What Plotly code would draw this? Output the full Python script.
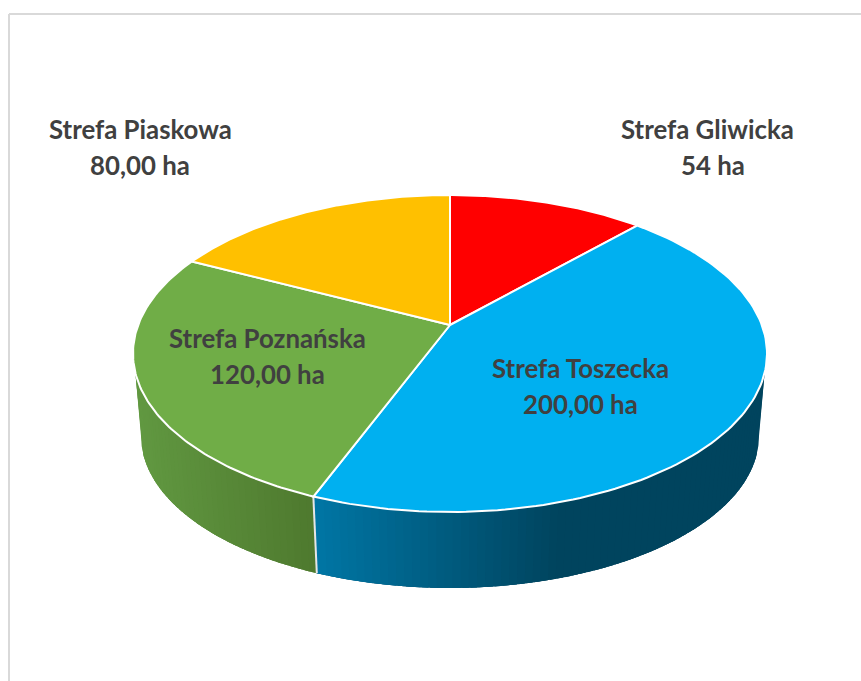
import numpy as np
import plotly.graph_objects as go

# --- data ---
categories = ["Strefa Gliwicka", "Strefa Toszecka", "Strefa Poznańska", "Strefa Piaskowa"]
values = [54, 200, 120, 80]
value_labels = ["54 ha", "200,00 ha", "120,00 ha", "80,00 ha"]

# --- styles ---
top_colors = ["#FF0000", "#00B0F0", "#70AD47", "#FFC000"]
side_ramps = [None, ("#0077A6", "#00445E"), ("#619841", "#4F7A2F"), None]
label_anchor = [(707, 129), (580, 368), (267, 338), (140, 129)]
label_pitch = 36
value_offset = [6, 0, 0, 0]

W, H = 861, 681
APEX_X, APEX_Y = 450, 325
K, A, R = 57 / 317, 153.4, 311.7              # perspective of the top disc
TOP_CY, TOP_RX, TOP_RY = 353.5, 317, 158.5    # outline of the top disc
BOT_CY, BOT_RX, BOT_RY = 436, 309, 152        # outline of the lower rim
GRAD_END_X = 560


def disc_point(deg):
    th = np.radians(deg)
    u, v = np.sin(th), np.cos(th)
    d = 1 + K * v
    return APEX_X + R * u / d, APEX_Y - A * v / d


def rim_t(deg):
    """Angle on the fitted ellipses that corresponds to a true pie angle."""
    x, y = disc_point(deg)
    return np.degrees(np.arctan2((x - APEX_X) / TOP_RX, (TOP_CY - y) / TOP_RY)) % 360


def top_pt(t):
    r = np.radians(t)
    return APEX_X + TOP_RX * np.sin(r), TOP_CY - TOP_RY * np.cos(r)


def bot_pt(t):
    r = np.radians(t)
    return APEX_X + BOT_RX * np.sin(r), BOT_CY - BOT_RY * np.cos(r)


def hex_rgb(h):
    return np.array([int(h[i:i + 2], 16) for i in (1, 3, 5)], dtype=float)


def poly(x, y, col):
    fig.add_trace(go.Scatter(x=x, y=y, mode="lines", fill="toself", fillcolor=col,
                             line=dict(width=0), hoverinfo="skip", showlegend=False))


fig = go.Figure()

total = sum(values)
edges = np.concatenate([[0], np.cumsum(values) / total * 360])

# side wall
SIDE_START, SIDE_END = 97.0, 263.0
STEP = 1.5
for i in (1, 2):
    t0 = max(rim_t(edges[i]), SIDE_START)
    t1 = min(rim_t(edges[i + 1]) if edges[i + 1] < 360 else 360, SIDE_END)
    lo, hi = hex_rgb(side_ramps[i][0]), hex_rgb(side_ramps[i][1])
    xmin = bot_pt(t1)[0] if i == 2 else top_pt(t1)[0]
    xmax = top_pt(t0)[0]

    # silhouette corner and a solid base under the gradient strips
    corner = (90.0, t0) if i == 1 else (t1, 270.0)
    a_all = np.linspace(t0, t1, 200)
    xt_all, yt_all = top_pt(a_all)
    a_b = np.linspace(90.0 if i == 1 else t0, 270.0 if i == 2 else t1, 240)
    xb_all, yb_all = bot_pt(a_b)
    base = side_ramps[i][1] if i == 1 else side_ramps[i][0]
    poly(np.concatenate([xt_all, xb_all[::-1]]), np.concatenate([yt_all, yb_all[::-1]]), base)

    ts = np.arange(t0, t1, STEP)
    for t in ts:
        te = min(t + STEP + 1.2, t1)
        ta = max(t, t0)
        a = np.linspace(ta, te, 4)
        xt, yt = top_pt(a)
        xb, yb = bot_pt(a)
        xm = (top_pt(t + STEP / 2)[0] + bot_pt(t + STEP / 2)[0]) / 2
        if i == 1:
            f = np.clip((xm - xmin) / (GRAD_END_X - xmin), 0, 1)
            c = hi + (lo - hi) * (1 - f)
        else:
            f = np.clip((xm - xmin) / (xmax - xmin), 0, 1)
            c = lo + (hi - lo) * f
        poly(np.concatenate([xt, xb[::-1]]), np.concatenate([yt, yb[::-1]]),
             "rgb(%d,%d,%d)" % tuple(c))

# divider on the wall between the two visible slices
div_t = rim_t(edges[2])
dx0, dy0 = top_pt(div_t)
dx1, dy1 = bot_pt(div_t)
fig.add_trace(go.Scatter(x=[dx0, dx1], y=[dy0, dy1], mode="lines",
                         line=dict(color="#E6E6E6", width=2),
                         hoverinfo="skip", showlegend=False))

# top slices
for i, name in enumerate(categories):
    a = np.linspace(rim_t(edges[i]), rim_t(edges[i + 1]) if edges[i + 1] < 360 else 360, 120)
    xs, ys = top_pt(a)
    fig.add_trace(go.Scatter(
        x=np.concatenate([[APEX_X], xs, [APEX_X]]),
        y=np.concatenate([[APEX_Y], ys, [APEX_Y]]),
        mode="lines", fill="toself", fillcolor=top_colors[i],
        line=dict(color="#FFFFFF", width=2), name=name,
        hovertemplate=name + "<br>" + value_labels[i] + "<extra></extra>",
        showlegend=False))

# labels
for i, name in enumerate(categories):
    lx, ly = label_anchor[i]
    for text, yy, xx in ((name, ly, lx), (value_labels[i], ly + label_pitch, lx + value_offset[i])):
        fig.add_annotation(x=xx, y=yy, text="<b>%s</b>" % text, showarrow=False,
                           xanchor="center", yanchor="middle",
                           font=dict(family="Lato", size=25.8, color="#404040"))

# chart frame, running off the picture on the right and at the bottom
fig.add_shape(type="line", x0=9, x1=W + 5, y0=14, y1=14, line=dict(color="#D9D9D9", width=2))
fig.add_shape(type="line", x0=9, x1=9, y0=14, y1=H + 5, line=dict(color="#D9D9D9", width=2))

fig.update_layout(
    width=W, height=H, margin=dict(l=0, r=0, t=0, b=0),
    paper_bgcolor="white", plot_bgcolor="white", showlegend=False,
    xaxis=dict(range=[0, W], visible=False, fixedrange=True),
    yaxis=dict(range=[H, 0], visible=False, fixedrange=True),
)

fig.write_html("out.html", config=dict(displayModeBar=False),
               post_script="document.body.style.margin='0';")
